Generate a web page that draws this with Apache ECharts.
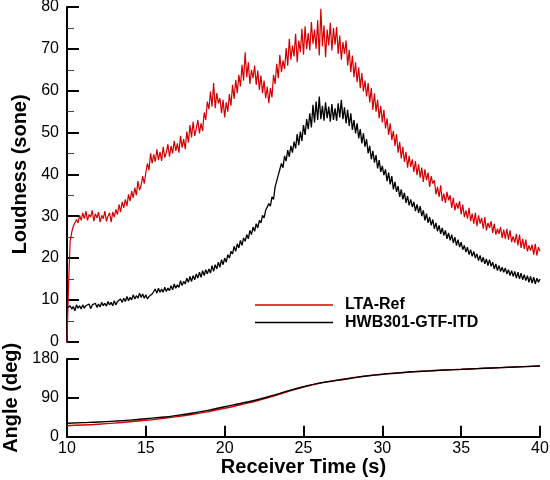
<!DOCTYPE html>
<html>
<head>
<meta charset="utf-8">
<script src="https://cdn.jsdelivr.net/npm/echarts@6/dist/echarts.min.js"></script>
<style>
  html, body { margin: 0; padding: 0; background: #fff; }
  #chart { width: 550px; height: 480px; }
</style>
</head>
<body>
<div id="chart"></div>
<script>
// Loudness samples every 0.1 s from t = 10 s to 40 s (one row per second)
const loudStart = 10;
const loudStep = 0.1;
const ltaRefLoudness = [
  0.0, 14.0, 24.0, 26.2, 27.6, 28.0, 29.2, 28.4, 30.2, 29.0,
  30.8, 29.4, 31.2, 29.0, 30.4, 29.8, 31.4, 28.8, 30.6, 29.6,
  31.0, 28.6, 30.2, 29.4, 31.2, 28.8, 30.0, 30.8, 28.6, 31.0,
  29.8, 31.6, 30.4, 32.8, 31.0, 33.4, 32.0, 34.0, 32.4, 35.2,
  33.6, 36.0, 34.4, 36.8, 35.0, 38.4, 36.2, 37.4, 39.6, 37.8,
  40.4, 42.6, 41.0, 45.0, 42.6, 44.8, 43.0, 46.0, 43.4, 45.4,
  43.2, 46.6, 44.0, 45.2, 47.2, 44.2, 46.8, 45.0, 48.0, 45.6,
  47.4, 45.2, 49.2, 46.4, 48.4, 46.0, 50.2, 47.6, 51.8, 48.8,
  52.6, 49.2, 51.0, 53.0, 49.8, 52.2, 50.4, 54.8, 53.0, 57.4,
  55.6, 59.8, 56.2, 61.8, 55.8, 59.4, 57.0, 58.2, 54.6, 57.8,
  53.6, 57.2, 55.0, 59.2, 56.4, 61.4, 58.0, 62.6, 59.4, 63.8,
  61.0, 66.2, 62.4, 69.2, 63.2, 66.8, 61.6, 65.0, 63.0, 66.0,
  61.4, 64.8, 60.2, 63.6, 59.4, 62.4, 58.2, 61.0, 57.0, 60.6,
  58.4, 63.8, 61.6, 66.4, 63.0, 68.6, 64.4, 67.2, 65.2, 70.2,
  66.0, 72.4, 67.4, 70.8, 68.2, 73.6, 66.8, 72.0, 69.2, 74.8,
  68.6, 75.4, 70.0, 73.8, 69.6, 76.4, 71.2, 74.6, 70.0, 76.8,
  68.4, 79.6, 70.6, 75.6, 68.0, 74.6, 70.8, 76.2, 69.6, 75.0,
  71.0, 75.2, 68.8, 73.2, 67.4, 71.6, 68.8, 72.0, 66.0, 69.8,
  64.4, 68.4, 63.2, 66.8, 62.0, 65.6, 60.6, 64.2, 59.8, 62.4,
  58.6, 61.8, 57.2, 60.6, 55.4, 59.4, 55.0, 57.8, 53.4, 56.4,
  52.4, 55.4, 51.0, 53.4, 49.4, 52.2, 48.2, 50.4, 46.8, 49.6,
  45.2, 47.8, 43.8, 46.6, 43.0, 45.4, 41.6, 44.4, 41.8, 43.6,
  40.6, 43.2, 39.8, 42.4, 39.2, 41.6, 38.2, 41.2, 38.6, 40.4,
  37.0, 39.6, 37.8, 38.6, 35.2, 37.0, 34.6, 37.4, 33.6, 35.4,
  33.2, 35.8, 33.8, 35.0, 32.0, 34.4, 31.4, 33.2, 31.8, 33.6,
  30.4, 32.8, 29.8, 31.4, 29.4, 32.0, 28.8, 30.6, 28.2, 30.8,
  27.6, 30.2, 28.2, 29.6, 27.0, 29.8, 26.6, 28.4, 27.2, 28.8,
  26.0, 28.2, 25.6, 27.0, 25.8, 27.4, 24.8, 26.8, 24.6, 27.0,
  24.4, 26.6, 23.8, 25.2, 23.6, 25.8, 23.0, 25.6, 22.4, 24.6,
  22.2, 24.4, 21.6, 23.0, 21.8, 23.2, 20.8, 23.4, 20.6, 22.6,
  21.6
];
const hwbLoudness = [
  8.0, 7.6, 8.6, 7.8, 8.4, 7.4, 8.8, 8.0, 8.6, 7.8,
  8.8, 8.0, 8.6, 8.2, 9.0, 7.9, 8.8, 8.4, 9.2, 8.2,
  9.0, 8.3, 9.4, 8.6, 9.2, 8.5, 9.6, 8.8, 9.4, 8.6,
  9.8, 8.8, 9.6, 9.2, 10.2, 9.4, 10.4, 9.6, 10.8, 9.8,
  10.6, 10.0, 11.2, 10.2, 11.0, 10.4, 11.6, 10.6, 11.4, 10.4,
  11.2, 10.2, 10.8, 10.4, 11.4, 11.0, 12.6, 11.6, 12.8, 11.8,
  12.6, 11.8, 13.0, 12.0, 12.8, 12.2, 13.4, 12.4, 13.8, 12.8,
  13.6, 13.0, 14.6, 13.4, 14.4, 13.8, 15.2, 14.2, 15.6, 14.4,
  15.8, 14.8, 16.2, 15.2, 16.6, 15.4, 17.0, 15.8, 17.2, 16.2,
  17.4, 16.4, 18.2, 16.8, 18.4, 17.4, 19.0, 17.8, 19.6, 18.4,
  20.0, 19.0, 20.8, 20.0, 21.6, 21.0, 22.8, 21.6, 23.4, 22.4,
  24.2, 23.0, 24.8, 24.0, 25.6, 24.6, 26.6, 25.6, 27.4, 26.4,
  28.2, 27.2, 29.0, 28.4, 30.2, 29.6, 31.4, 31.0, 33.0, 32.4,
  34.6, 34.0, 37.0, 37.4, 39.8, 40.2, 42.6, 41.6, 44.4, 43.2,
  45.8, 44.2, 46.8, 45.2, 47.8, 46.2, 49.6, 47.0, 50.2, 48.0,
  51.8, 49.4, 53.2, 50.8, 54.6, 51.2, 56.6, 52.4, 57.4, 53.0,
  58.6, 53.2, 56.4, 52.8, 57.2, 53.4, 56.2, 52.6, 56.8, 53.0,
  55.8, 52.8, 57.0, 53.6, 57.8, 53.2, 56.0, 52.2, 55.4, 51.6,
  54.6, 50.6, 53.0, 49.8, 52.2, 48.6, 50.8, 47.4, 49.8, 46.6,
  48.4, 45.0, 46.8, 43.6, 45.6, 42.8, 44.6, 41.4, 43.4, 40.6,
  42.0, 39.8, 41.2, 38.4, 40.4, 37.6, 39.6, 36.4, 38.2, 35.8,
  37.2, 34.6, 36.4, 34.0, 35.6, 33.2, 34.8, 32.6, 34.0, 32.2,
  33.4, 31.2, 32.8, 30.8, 32.4, 30.0, 31.4, 29.0, 30.6, 28.4,
  29.8, 27.8, 29.2, 27.0, 28.4, 26.4, 27.8, 25.8, 27.2, 25.4,
  26.6, 24.6, 26.0, 24.2, 25.6, 23.6, 25.0, 23.0, 24.4, 22.6,
  23.8, 22.0, 23.0, 21.4, 22.6, 20.8, 22.0, 20.4, 21.6, 20.0,
  21.0, 19.4, 20.6, 19.0, 20.2, 18.6, 19.8, 18.2, 19.6, 18.0,
  19.0, 17.4, 18.6, 17.0, 18.2, 16.8, 17.8, 16.6, 17.6, 16.2,
  17.2, 15.8, 17.0, 15.6, 16.8, 15.2, 16.6, 15.0, 16.4, 14.8,
  16.0, 14.6, 15.8, 14.2, 15.6, 14.0, 15.4, 13.8, 15.2, 14.2,
  15.0
];

// Angle samples every 1 s from t = 10 s to 40 s
const angleStart = 10;
const angleStep = 1;
const ltaRefAngle = [
  25.5, 27.0, 29.0, 31.5, 34.5, 38.0, 42.0, 46.5, 52.0, 58.5,
  65.8, 74.0, 82.5, 93.0, 104.5, 115.2, 123.8, 130.2, 135.8, 140.8,
  144.8, 147.8, 150.7, 152.7, 154.6, 156.1, 157.7, 159.3, 160.9, 162.4,
  163.9
];
const hwbAngle = [
  31.0, 32.5, 34.0, 36.0, 38.5, 41.7, 45.0, 49.5, 55.0, 61.5,
  69.5, 77.0, 85.0, 95.0, 106.0, 115.8, 124.0, 130.0, 135.5, 140.5,
  144.5, 147.5, 150.5, 152.5, 154.5, 156.0, 157.6, 159.2, 160.8, 162.3,
  163.8
];

// Axis ranges
const timeTicks = [10, 15, 20, 25, 30, 35, 40];
const loudnessTicks = [0, 10, 20, 30, 40, 50, 60, 70, 80];
const angleTicks = [0, 90, 180];

const seriesNames = ['LTA-Ref', 'HWB301-GTF-ITD'];
const seriesColors = ['#d40000', '#000000'];

function toPoints(values, start, step) {
  return values.map((v, i) => [start + i * step, v]);
}

const FONT = '"Liberation Sans", Arial, Helvetica, sans-serif';
const chart = echarts.init(document.getElementById('chart'), null, { renderer: 'canvas' });

const axisLineStyle = { color: '#000', width: 2 };

chart.setOption({
  animation: false,
  backgroundColor: '#fff',
  textStyle: { fontFamily: FONT },
  grid: [
    { left: 67, right: 10, top: 7, height: 334.7, outerBoundsMode: 'none', containLabel: false },
    { left: 67, right: 10, top: 359, height: 77.7, outerBoundsMode: 'none', containLabel: false }
  ],
  legend: {
    data: seriesNames,
    orient: 'vertical',
    left: 250,
    top: 292,
    icon: 'rect',
    itemWidth: 78,
    itemHeight: 1.4,
    itemGap: 1.5,
    textStyle: {
      fontFamily: FONT, fontSize: 16, fontWeight: 'bold', color: '#000',
      lineHeight: 16, padding: [0, 0, 0, 7]
    }
  },
  xAxis: [
    {
      gridIndex: 0, type: 'value',
      min: timeTicks[0], max: timeTicks[timeTicks.length - 1], interval: 5,
      axisLine: { show: false }, axisTick: { show: false },
      axisLabel: { show: false }, splitLine: { show: false }
    },
    {
      gridIndex: 1, type: 'value',
      min: timeTicks[0], max: timeTicks[timeTicks.length - 1], interval: 5,
      name: 'Receiver Time (s)', nameLocation: 'middle', nameGap: 20,
      nameTextStyle: { fontFamily: FONT, fontSize: 20, fontWeight: 'bold', color: '#000' },
      axisLine: { show: true, onZero: false, lineStyle: axisLineStyle },
      axisTick: { show: true, inside: true, length: 11, lineStyle: axisLineStyle },
      axisLabel: { fontFamily: FONT, fontSize: 16, color: '#000', margin: 4 },
      splitLine: { show: false }
    }
  ],
  yAxis: [
    {
      gridIndex: 0, type: 'value',
      min: loudnessTicks[0], max: loudnessTicks[loudnessTicks.length - 1], interval: 10,
      name: 'Loudness (sone)', nameLocation: 'middle', nameGap: 36,
      nameTextStyle: { fontFamily: FONT, fontSize: 20, fontWeight: 'bold', color: '#000' },
      axisLine: { show: true, onZero: false, lineStyle: axisLineStyle },
      axisTick: { show: true, inside: true, length: 12, lineStyle: axisLineStyle },
      minorTick: { show: true, splitNumber: 2, length: 7, lineStyle: { color: '#444', width: 1 } },
      axisLabel: { fontFamily: FONT, fontSize: 16, color: '#000', margin: 8 },
      splitLine: { show: false }
    },
    {
      gridIndex: 1, type: 'value',
      min: angleTicks[0], max: angleTicks[angleTicks.length - 1], interval: 90,
      name: 'Angle (deg)', nameLocation: 'middle', nameGap: 36,
      nameTextStyle: { fontFamily: FONT, fontSize: 20, fontWeight: 'bold', color: '#000' },
      axisLine: { show: true, onZero: false, lineStyle: axisLineStyle },
      axisTick: { show: true, inside: true, length: 12, lineStyle: axisLineStyle },
      axisLabel: { fontFamily: FONT, fontSize: 16, color: '#000', margin: 8 },
      splitLine: { show: false }
    }
  ],
  series: [
    {
      name: seriesNames[0], type: 'line', xAxisIndex: 0, yAxisIndex: 0,
      data: toPoints(ltaRefLoudness, loudStart, loudStep),
      symbol: 'none', color: seriesColors[0],
      lineStyle: { color: seriesColors[0], width: 1.2 }
    },
    {
      name: seriesNames[1], type: 'line', xAxisIndex: 0, yAxisIndex: 0,
      data: toPoints(hwbLoudness, loudStart, loudStep),
      symbol: 'none', color: seriesColors[1],
      lineStyle: { color: seriesColors[1], width: 1.3 }
    },
    {
      name: seriesNames[0], type: 'line', xAxisIndex: 1, yAxisIndex: 1,
      data: toPoints(ltaRefAngle, angleStart, angleStep),
      symbol: 'none', smooth: true, color: seriesColors[0],
      lineStyle: { color: seriesColors[0], width: 1.4 }
    },
    {
      name: seriesNames[1], type: 'line', xAxisIndex: 1, yAxisIndex: 1,
      data: toPoints(hwbAngle, angleStart, angleStep),
      symbol: 'none', smooth: true, color: seriesColors[1],
      lineStyle: { color: seriesColors[1], width: 1.4 }
    }
  ]
});
</script>
</body>
</html>
